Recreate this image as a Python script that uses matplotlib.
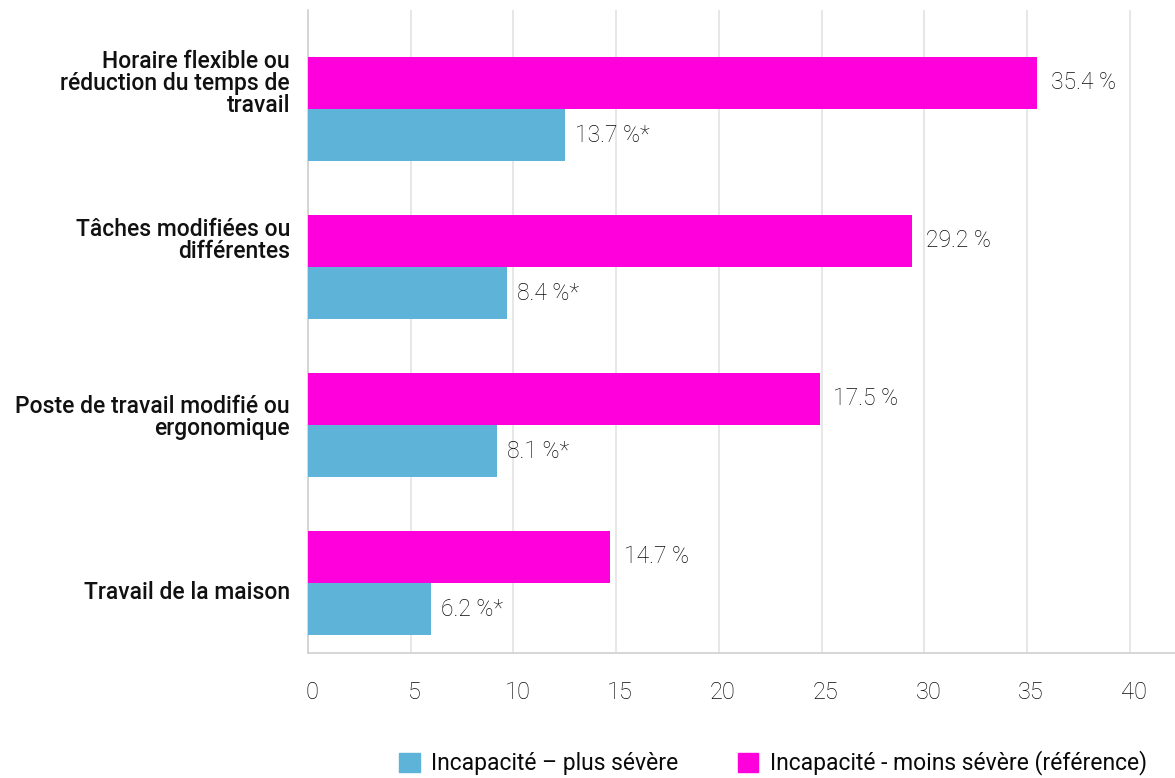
import matplotlib
matplotlib.use("Agg")
import matplotlib.pyplot as plt
from matplotlib.patches import Patch
from matplotlib.transforms import ScaledTranslation

# ---- data ----
categories = [
    "Horaire flexible ou\nréduction du temps de\ntravail",
    "Tâches modifiées ou\ndifférentes",
    "Poste de travail modifié ou\nergonomique",
    "Travail de la maison",
]
# bar lengths as drawn in the picture
moins_severe = [35.5, 29.4, 24.9, 14.7]
plus_severe = [12.5, 9.7, 9.2, 6.0]
# printed labels
moins_labels = ["35.4 %", "29.2 %", "17.5 %", "14.7 %"]
plus_labels = ["13.7 %*", "8.4 %*", "8.1 %*", "6.2 %*"]
xticks = [0, 5, 10, 15, 20, 25, 30, 35, 40]
legend_labels = ["Incapacité – plus sévère", "Incapacité - moins sévère (référence)"]

# ---- style ----
PINK = "#FF00DD"
BLUE = "#5EB4D8"
GRID = "#E3E3E3"
TXT = "#0A0A0A"
FONT = "Roboto"

fig = plt.figure(figsize=(11.75, 7.78), dpi=100)
ax = fig.add_axes([308 / 1175, 1 - 653 / 778, 1 - 308 / 1175, (653 - 10) / 778])

h = 0.33
ypos = list(range(len(categories)))
ax.barh([y - h / 2 for y in ypos], moins_severe, height=h, color=PINK, zorder=3)
ax.barh([y + h / 2 for y in ypos], plus_severe, height=h, color=BLUE, zorder=3)

for y, v, lab in zip(ypos, moins_severe, moins_labels):
    ax.annotate(lab, (v, y - h / 2), xytext=(10, 0), textcoords="offset points",
                va="center", ha="left", fontsize=16.5, fontweight="light",
                family=FONT, color=TXT)
for y, v, lab in zip(ypos, plus_severe, plus_labels):
    ax.annotate(lab, (v, y + h / 2), xytext=(7, 0), textcoords="offset points",
                va="center", ha="left", fontsize=16.5, fontweight="light",
                family=FONT, color=TXT)

label_offsets = [-0.16, -0.17, -0.05, 0.06]
for y, cat, off in zip(ypos, categories, label_offsets):
    ax.text(-0.88, y + off, cat, transform=ax.transData, ha="right", va="center",
            fontsize=16.5, fontweight="medium", family=FONT, color="#111111",
            linespacing=0.95, multialignment="right")

ax.set_xlim(0, 42.2)
ax.set_ylim(3.443, -0.627)
ax.set_xticks(xticks)
ax.set_xticklabels([str(t) for t in xticks], fontsize=17, fontweight="light",
                   family=FONT, color=TXT)
ax.tick_params(axis="x", length=0, pad=20)
shift = ScaledTranslation(4 / 100, 0, fig.dpi_scale_trans)
for lbl in ax.get_xticklabels():
    lbl.set_transform(lbl.get_transform() + shift)
ax.set_yticks([])
ax.grid(axis="x", color=GRID, linewidth=1.2, zorder=0)
for s in ["top", "right"]:
    ax.spines[s].set_visible(False)
for s in ["left", "bottom"]:
    ax.spines[s].set_color("#D0D0D0")
    ax.spines[s].set_linewidth(1.2)

handles = [Patch(color=BLUE), Patch(color=PINK)]
fig.legend(handles, legend_labels, loc="center", bbox_to_anchor=(773 / 1175, 15 / 778),
           ncol=2, frameon=False, prop={"family": FONT, "size": 16.5},
           handlelength=0.9, handleheight=0.9, columnspacing=2.6, handletextpad=0.5,
           labelcolor=TXT, borderpad=0.2)

fig.savefig("out.png", dpi=100)
